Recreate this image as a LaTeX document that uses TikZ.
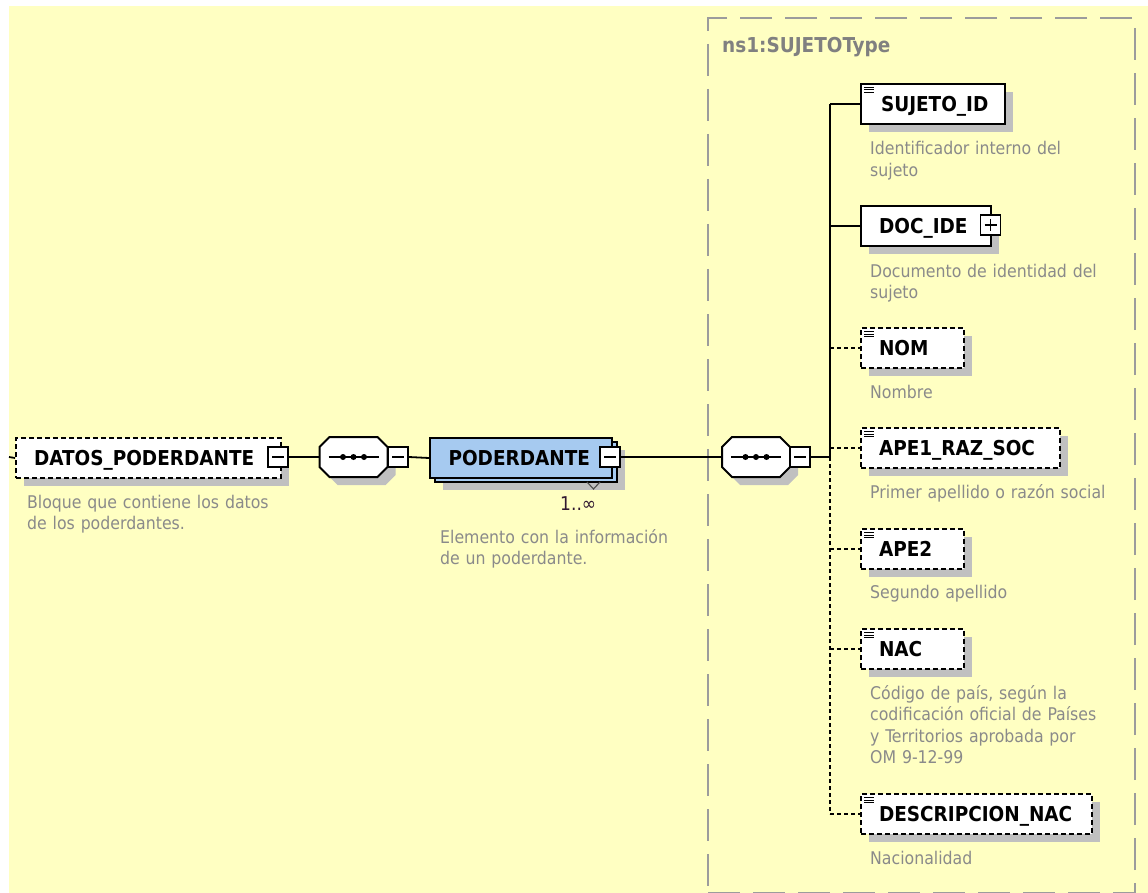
\documentclass[tikz,border=0pt]{standalone}
\usepackage{fontspec}
\setmainfont{DejaVu Sans Condensed}
\usetikzlibrary{shadows,calc}
\definecolor{bgyellow}{HTML}{FFFFC2}
\definecolor{shgray}{HTML}{C0C0C0}
\definecolor{frgray}{HTML}{9C9C9C}
\definecolor{descgray}{HTML}{8A8A8A}
\definecolor{typegray}{HTML}{808080}
\definecolor{podblue}{HTML}{A6CAF0}
\definecolor{occur}{HTML}{301830}
\newcommand\labfont{\fontsize{20.5}{24}\selectfont\bfseries}
\newcommand\descfont{\fontsize{17.5}{21.5}\selectfont}
\newcommand\seqoctagon[1]{%
  \begin{scope}[shift={(#1.center)}]
    \fill[shgray] (-16,-12) -- (32,-12) -- (42,-2) -- (42,18) -- (32,28) -- (-16,28) -- (-26,18) -- (-26,-2) -- cycle;
    \draw[line width=2pt, fill=white] (-24,-20) -- (24,-20) -- (34,-10) -- (34,10) -- (24,20) -- (-24,20) -- (-34,10) -- (-34,-10) -- cycle;
    \draw[line width=1.6pt] (-25,0) -- (25,0);
    \foreach \dx in {-10.5,0,10.5} \fill (\dx,0) circle[radius=3pt];
  \end{scope}}
\begin{document}
\begin{tikzpicture}[x=1pt,y=-1pt,
  conn/.style={line width=1.8pt},
  optconn/.style={line width=1.8pt, dash pattern=on 4pt off 3pt},
  shade8/.style={drop shadow={shadow xshift=8pt, shadow yshift=-8pt, opacity=1, fill=shgray}},
  elembase/.style={draw, line width=2pt, fill=white, anchor=north west, inner sep=0pt,
    minimum height=40pt, align=left, font=\labfont, text height=15pt, text depth=0pt},
  elem/.style={elembase, shade8},
  optional/.style={dash pattern=on 5pt off 3pt},
  simpleicon/.style={path picture={\foreach \d in {3.5,6,8.5}{\draw[line width=1pt, solid]
    ([xshift=3pt,yshift=-\d pt]path picture bounding box.north west) -- ++(10pt,0pt);}}},
  mbox/.style={draw, solid, fill=white, line width=1.6pt, minimum width=20pt, minimum height=20pt, inner sep=0pt,
    path picture={\draw[line width=1.6pt] ([xshift=4pt]path picture bounding box.west) -- ([xshift=-4pt]path picture bounding box.east);}},
  pbox/.style={mbox, path picture={\draw[line width=1.6pt] ([xshift=4pt]path picture bounding box.west) -- ([xshift=-4pt]path picture bounding box.east);
    \draw[line width=1.6pt] ([yshift=4pt]path picture bounding box.south) -- ([yshift=-4pt]path picture bounding box.north);}},
  octbox/.style={rectangle, minimum width=68pt, minimum height=40pt, inner sep=0pt},
  desc/.style={anchor=base west, inner sep=0pt, text width=320pt, align=left, font=\descfont, text=descgray},
  typeframe/.style={draw=frgray, line width=2pt, dash pattern=on 32pt off 13pt, anchor=north west, inner sep=0pt,
    minimum width=427pt, minimum height=875pt},
  typelbl/.style={anchor=base west, inner sep=0pt, font=\labfont, text=typegray}
]
\useasboundingbox (0,0) rectangle (1148,893);
\clip (0,0) rectangle (1148,893);
\fill[bgyellow] (9,6) rectangle (1148,893);

% type container
\node[typeframe] (typebox) at (707,17) {};
\node[typelbl] (tlbl) at (722,53) {ns1:SUJETOType};

% DATOS_PODERDANTE
\coordinate (stub) at (9,457);
\node[elem, optional, text width=265pt] (dp) at (15,437) {\hspace*{18pt}DATOS\_PODERDANTE};
\node[mbox] (dpm) at (278,457) {};
\node[desc] (dpdesc) at (27,508) {Bloque que contiene los datos\\de los poderdantes.};

% first sequence
\node[octbox] (oct1) at (353.5,457) {};
\seqoctagon{oct1}
\node[mbox] (o1m) at (398,457) {};

% PODERDANTE
\node[elembase, fill=podblue, text width=182pt, shade8] (podback) at (434,441) {};
\node[elembase, fill=podblue, text width=182pt] (pod) at (429,437) {\hspace*{18.5pt}PODERDANTE};
\node[mbox] (podm) at (610,457) {};
\draw[line width=1.1pt, draw=black!70] (587,482) -- (593.5,489) -- (600,482);
\node[anchor=base west, inner sep=0pt, font=\fontsize{19}{22}\selectfont, text=occur] (occ) at (560,510) {1..∞};
\node[desc] (poddesc) at (440,543) {Elemento con la información\\de un poderdante.};

% second sequence
\node[octbox] (oct2) at (756,457) {};
\seqoctagon{oct2}
\node[mbox] (o2m) at (800,457) {};
\coordinate (j) at (830,457);

% children
\node[elem, simpleicon, text width=144pt] (sid) at (860,83) {\hspace*{20pt}SUJETO\_ID};
\node[desc] (siddesc) at (870,155) {Identificador interno del\\sujeto};

\node[elem, text width=130pt] (doc) at (860,205) {\hspace*{18pt}DOC\_IDE};
\node[pbox] (docp) at (990.5,225) {};
\node[desc] (docdesc) at (870,277) {Documento de identidad del\\sujeto};

\node[elem, optional, simpleicon, text width=103pt] (nom) at (860,327) {\hspace*{18pt}NOM};
\node[desc] (nomdesc) at (870,398) {Nombre};

\node[elem, optional, simpleicon, text width=199pt] (ape1) at (860,427) {\hspace*{18pt}APE1\_RAZ\_SOC};
\node[desc] (ape1desc) at (870,498) {Primer apellido o razón social};

\node[elem, optional, simpleicon, text width=103pt] (ape2) at (860,528) {\hspace*{18pt}APE2};
\node[desc] (ape2desc) at (870,598) {Segundo apellido};

\node[elem, optional, simpleicon, text width=103pt] (nac) at (860,628) {\hspace*{18pt}NAC};
\node[desc] (nacdesc) at (870,699) {Código de país, según la\\codificación oficial de Países\\y Territorios aprobada por\\OM 9-12-99};

\node[elem, optional, simpleicon, text width=231pt] (dnac) at (860,793) {\hspace*{18pt}DESCRIPCION\_NAC};
\node[desc] (dnacdesc) at (870,864) {Nacionalidad};

% connectors
\draw[conn] (stub) -- (dp.west);
\draw[conn] (dpm.east) -- (oct1.west);
\draw[conn] (o1m.east) -- (pod.west);
\draw[conn] (podm.east) -- (oct2.west);
\draw[conn] (o2m.east) -- (j);
\draw[conn] (sid.west -| j) -- (j);
\draw[optconn] (j) -- (dnac.west -| j);
\draw[conn] (sid.west -| j) -- (sid.west);
\draw[conn] (doc.west -| j) -- (doc.west);
\foreach \n in {nom,ape1,ape2,nac,dnac} \draw[optconn] (\n.west -| j) -- (\n.west);
\end{tikzpicture}
\end{document}
